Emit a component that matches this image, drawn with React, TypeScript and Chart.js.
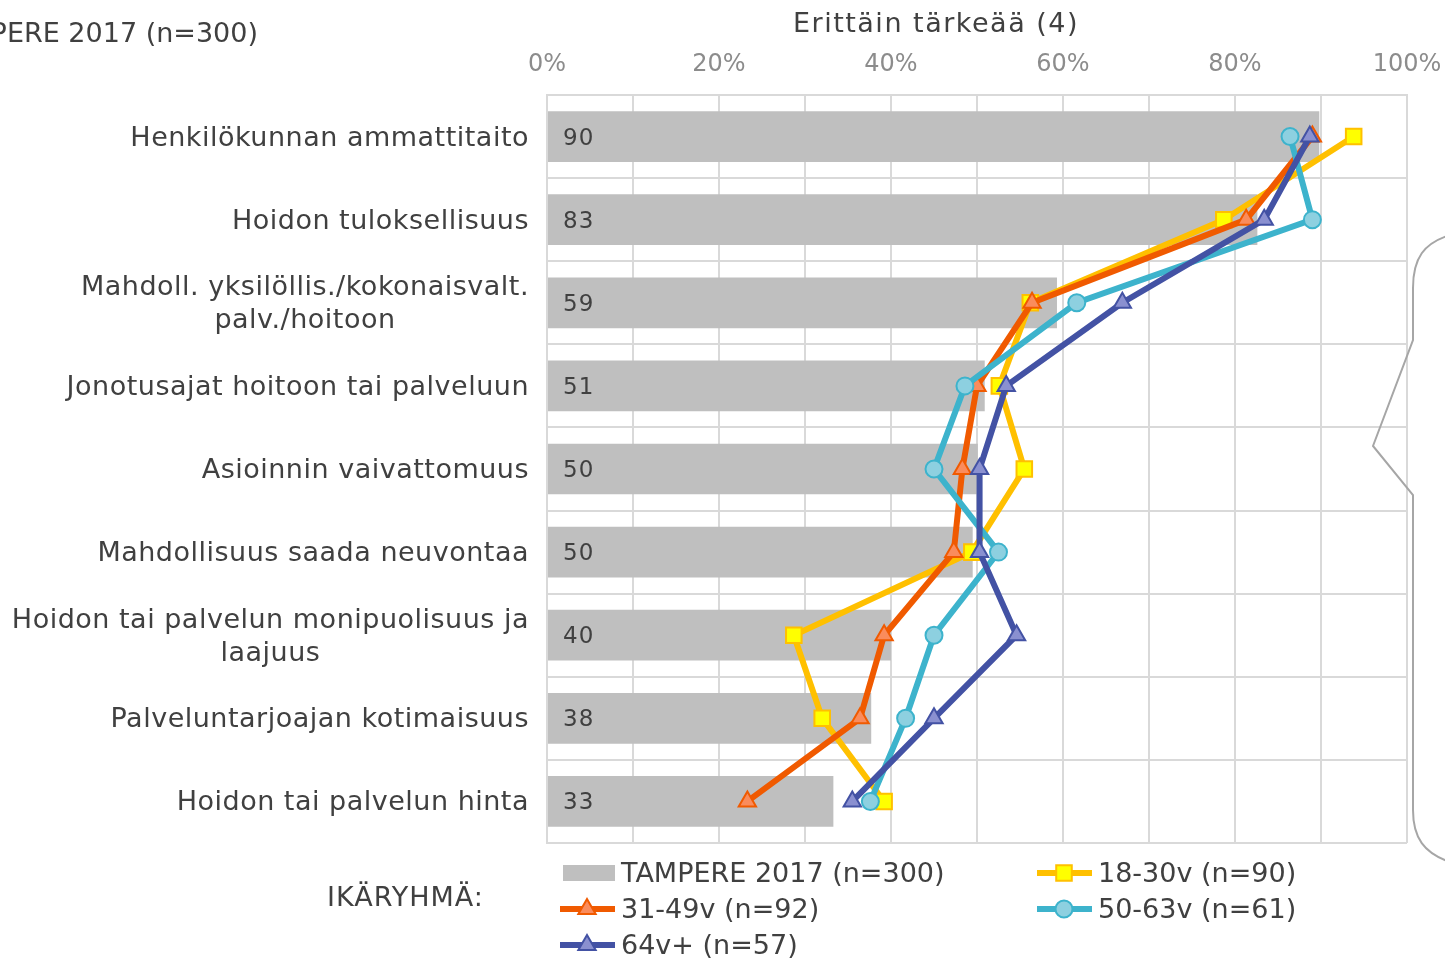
import React, { useEffect, useRef } from 'react';
import { Chart, registerables } from 'chart.js';

Chart.register(...registerables);

const FONT = '"DejaVu Sans", Verdana, sans-serif';
const TEXT = '#404040';

const categories: string[][] = [
  ['Henkilökunnan ammattitaito'],
  ['Hoidon tuloksellisuus'],
  ['Mahdoll. yksilöllis./kokonaisvalt.', 'palv./hoitoon'],
  ['Jonotusajat hoitoon tai palveluun'],
  ['Asioinnin vaivattomuus'],
  ['Mahdollisuus saada neuvontaa'],
  ['Hoidon tai palvelun monipuolisuus ja', 'laajuus'],
  ['Palveluntarjoajan kotimaisuus'],
  ['Hoidon tai palvelun hinta'],
];

const tampere2017 = [89.8, 82.6, 59.3, 50.9, 50.1, 49.5, 40.0, 37.7, 33.3];
const age18to30 = [93.8, 78.7, 56.2, 52.6, 55.5, 49.4, 28.7, 32.0, 39.2];
const age31to49 = [89.0, 81.3, 56.4, 50.0, 48.3, 47.3, 39.2, 36.4, 23.3];
const age50to63 = [86.4, 89.0, 61.6, 48.6, 45.0, 52.5, 45.0, 41.7, 37.6];
const age64plus = [88.7, 83.4, 66.9, 53.4, 50.3, 50.3, 54.6, 45.0, 35.5];

const xTickValues = [0, 20, 40, 60, 80, 100];

const seriesNames = {
  total: 'TAMPERE 2017 (n=300)',
  a: '18-30v (n=90)',
  b: '31-49v (n=92)',
  c: '50-63v (n=61)',
  d: '64v+ (n=57)',
};

const axisTitle = 'Erittäin tärkeää (4)';
const legendTitle = 'IKÄRYHMÄ:';

type Marker = { style: string; r: number; fill: string; stroke: string; line: string };
const markers: Record<string, Marker> = {
  a: { style: 'rect', r: 11, fill: '#ffff00', stroke: '#ffc000', line: '#ffc000' },
  b: { style: 'triangle', r: 10, fill: '#fa8c5c', stroke: '#f05a00', line: '#f05a00' },
  c: { style: 'circle', r: 8.5, fill: '#8dd0e0', stroke: '#3db3cc', line: '#3db3cc' },
  d: { style: 'triangle', r: 10, fill: '#8a90d0', stroke: '#4352a4', line: '#4352a4' },
};

const LINE_W = 6;

function drawMarker(ctx: CanvasRenderingContext2D, m: Marker, x: number, y: number) {
  ctx.save();
  ctx.fillStyle = m.fill;
  ctx.strokeStyle = m.stroke;
  ctx.lineWidth = 2;
  ctx.beginPath();
  if (m.style === 'rect') {
    const s = m.r * Math.SQRT1_2;
    ctx.rect(x - s, y - s, 2 * s, 2 * s);
  } else if (m.style === 'triangle') {
    ctx.moveTo(x, y - m.r);
    ctx.lineTo(x + m.r * 0.866, y + m.r * 0.5);
    ctx.lineTo(x - m.r * 0.866, y + m.r * 0.5);
    ctx.closePath();
  } else {
    ctx.arc(x, y, m.r, 0, Math.PI * 2);
  }
  ctx.fill();
  ctx.stroke();
  ctx.restore();
}

function setSpacing(ctx: any, v: string) {
  if ('letterSpacing' in ctx) ctx.letterSpacing = v;
}

const decorPlugin = {
  id: 'decor',
  afterDraw(chart: any) {
    const ctx: CanvasRenderingContext2D = chart.ctx;
    const area = chart.chartArea;
    const yScale = chart.scales.y;
    const xScale = chart.scales.x;
    ctx.save();

    // Category labels (block right-aligned, lines centered)
    ctx.font = `27px ${FONT}`;
    setSpacing(ctx, '0.5px');
    ctx.fillStyle = TEXT;
    ctx.textBaseline = 'middle';
    categories.forEach((lines, i) => {
      const yc = yScale.getPixelForValue(i) + 2;
      const widths = lines.map((l) => ctx.measureText(l).width);
      const maxW = Math.max(...widths);
      const right = area.left - 18;
      const lh = 33;
      lines.forEach((l, j) => {
        const y = yc + (j - (lines.length - 1) / 2) * lh;
        ctx.textAlign = 'center';
        ctx.fillText(l, right - maxW / 2, y);
      });
    });

    // Data labels inside bars
    const meta = chart.getDatasetMeta(4);
    ctx.font = `23px ${FONT}`;
    setSpacing(ctx, '1px');
    ctx.textAlign = 'left';
    tampere2017.forEach((v, i) => {
      const el = meta.data[i];
      ctx.fillText(String(Math.round(v)), xScale.getPixelForValue(0) + 16, el.y + 2);
    });

    // Titles
    ctx.font = `27px ${FONT}`;
    setSpacing(ctx, '1.5px');
    ctx.textAlign = 'center';
    ctx.fillText(axisTitle, area.left + 389, 25);
    setSpacing(ctx, '0px');
    ctx.textAlign = 'right';
    ctx.fillText(seriesNames.total, 258, 35);

    // Legend
    ctx.textAlign = 'left';
    setSpacing(ctx, '1px');
    ctx.fillText(legendTitle, 327, 899);
    setSpacing(ctx, '0px');
    const col1 = 560;
    const col2 = 1037;
    const rows = [873, 909, 945];
    ctx.fillStyle = '#bfbfbf';
    ctx.fillRect(col1 + 3, rows[0] - 8, 52, 16);
    ctx.fillStyle = TEXT;
    ctx.fillText(seriesNames.total, col1 + 61, rows[0] + 2);
    const items: [string, number, number][] = [
      ['a', col2, rows[0]],
      ['b', col1, rows[1]],
      ['c', col2, rows[1]],
      ['d', col1, rows[2]],
    ];
    items.forEach(([k, x, y]) => {
      const m = markers[k];
      ctx.strokeStyle = m.line;
      ctx.lineWidth = LINE_W;
      ctx.beginPath();
      ctx.moveTo(x, y);
      ctx.lineTo(x + 55, y);
      ctx.stroke();
      drawMarker(ctx, m, x + 27, y);
      ctx.fillStyle = TEXT;
      ctx.fillText((seriesNames as any)[k], x + 61, y + 2);
    });

    // Brace on the right
    ctx.strokeStyle = '#a6a6a6';
    ctx.lineWidth = 2;
    ctx.beginPath();
    const bx = area.right + 3;
    ctx.moveTo(bx + 40, 235);
    ctx.bezierCurveTo(bx + 14, 243, bx + 3, 258, bx + 3, 288);
    ctx.lineTo(bx + 3, 340);
    ctx.lineTo(bx - 37, 446);
    ctx.lineTo(bx + 3, 495);
    ctx.lineTo(bx + 3, 810);
    ctx.bezierCurveTo(bx + 3, 838, bx + 14, 853, bx + 40, 862);
    ctx.stroke();

    ctx.restore();
  },
};

function lineDataset(label: string, data: number[], m: Marker, order: number) {
  return {
    type: 'line' as const,
    label,
    data,
    indexAxis: 'y' as const,
    borderColor: m.line,
    borderWidth: LINE_W,
    backgroundColor: m.fill,
    pointStyle: m.style,
    pointRadius: m.r,
    pointHoverRadius: m.r,
    pointBackgroundColor: m.fill,
    pointBorderColor: m.stroke,
    pointBorderWidth: 2,
    fill: false,
    tension: 0,
    order,
  };
}

export default function App() {
  const ref = useRef<HTMLCanvasElement | null>(null);
  useEffect(() => {
    if (!ref.current) return;
    const chart = new Chart(ref.current, {
      type: 'bar',
      data: {
        labels: categories,
        datasets: [
          lineDataset(seriesNames.d, age64plus, markers.d, 1),
          lineDataset(seriesNames.c, age50to63, markers.c, 2),
          lineDataset(seriesNames.b, age31to49, markers.b, 3),
          lineDataset(seriesNames.a, age18to30, markers.a, 4),
          {
            type: 'bar',
            label: seriesNames.total,
            data: tampere2017,
            backgroundColor: '#bfbfbf',
            barPercentage: 0.61,
            categoryPercentage: 1,
            order: 5,
          },
        ] as any,
      },
      options: {
        responsive: false,
        animation: false,
        indexAxis: 'y',
        layout: { padding: { left: 0, right: 38, top: 0, bottom: 116 } },
        plugins: {
          legend: { display: false },
          tooltip: { enabled: false },
        },
        scales: {
          x: {
            position: 'top',
            min: 0,
            max: 100,
            afterBuildTicks: (s: any) => {
              const t = [];
              for (let v = 0; v <= 100; v += 10) t.push({ value: v });
              s.ticks = t;
            },
            ticks: {
              autoSkip: false,
              maxRotation: 0,
              padding: 16,
              color: '#8c8c8c',
              font: { family: FONT, size: 24 },
              callback: (v: any) => (xTickValues.includes(Number(v)) ? `${v}%` : ''),
            },
            grid: { color: '#d9d9d9', lineWidth: 2, drawTicks: false },
            border: { display: true, color: '#d9d9d9', width: 2 },
            afterFit: (s: any) => {
              s.height = 95;
              s.paddingLeft = 0;
              s.paddingRight = 0;
            },
          },
          y: {
            ticks: { display: false },
            grid: { color: '#d9d9d9', lineWidth: 2, drawTicks: false, offset: true },
            border: { display: true, color: '#d9d9d9', width: 2 },
            afterFit: (s: any) => {
              s.width = 547;
              s.paddingTop = 0;
              s.paddingBottom = 0;
            },
          },
        },
      } as any,
      plugins: [decorPlugin],
    });
    return () => chart.destroy();
  }, []);
  return (
    <div style={{ position: 'absolute', left: 0, top: 0, width: 1445, height: 959, background: '#fff' }}>
      <canvas ref={ref} width={1445} height={959} />
    </div>
  );
}
